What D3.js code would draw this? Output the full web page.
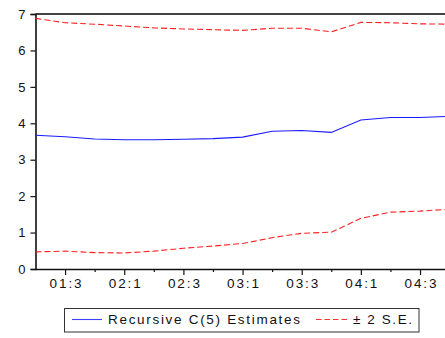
<!DOCTYPE html>
<html>
<head>
<meta charset="utf-8">
<script src="https://cdn.jsdelivr.net/npm/d3@7/dist/d3.min.js"></script>
<style>
  html, body { margin: 0; padding: 0; background: #fff; }
  svg { display: block; }
  text { font-family: Arial, "Liberation Sans", sans-serif; fill: #111; }
</style>
</head>
<body>
<svg id="chart" width="445" height="338"></svg>
<script>
// Quarterly observations, 2001Q2 – 2004Q4
const quarters = ["01:2","01:3","01:4","02:1","02:2","02:3","02:4","03:1",
                  "03:2","03:3","03:4","04:1","04:2","04:3","04:4"];
// Recursive estimate of coefficient C(5)
const estimate  = [3.67,3.63,3.57,3.55,3.55,3.56,3.58,3.62,3.78,3.80,3.75,4.09,4.16,4.16,4.19];
// Upper and lower ±2 standard-error bands
const upperBand = [6.88,6.76,6.72,6.67,6.62,6.59,6.57,6.55,6.61,6.61,6.51,6.77,6.76,6.73,6.72];
const lowerBand = [0.47,0.49,0.45,0.44,0.49,0.57,0.63,0.70,0.86,0.98,1.01,1.39,1.56,1.59,1.64];
const yTicks = [0,1,2,3,4,5,6,7];
const labelledQuarters = ["01:3","02:1","02:3","03:1","03:3","04:1","04:3"];

const svg = d3.select("#chart");
const plotLeft = 35.5, plotRight = 449.6, plotTop = 14, plotBottom = 269;

const x = d3.scaleLinear().domain([0, quarters.length - 1]).range([plotLeft, plotRight]);
const y = d3.scaleLinear().domain([0, 7]).range([plotBottom, plotTop]);

// frame top edge
svg.append("line")
  .attr("x1", plotLeft).attr("x2", plotRight)
  .attr("y1", plotTop).attr("y2", plotTop)
  .attr("stroke", "#444").attr("stroke-width", 1.8);

// y axis
const yAxis = svg.append("g")
  .attr("transform", `translate(${plotLeft},0)`)
  .call(d3.axisLeft(y).tickValues(yTicks).tickSize(5).tickPadding(5).tickFormat(d3.format("d")));
yAxis.select(".domain").attr("stroke", "#111").attr("stroke-width", 1.6);
yAxis.selectAll(".tick line").attr("stroke", "#111").attr("stroke-width", 1.2);
yAxis.selectAll("text").attr("font-size", 13).attr("fill", "#111")
  .attr("font-family", "Arial, 'Liberation Sans', sans-serif");

// x axis: every quarter gets a tick, odd-numbered ones are labelled
const idx = d3.range(quarters.length);
const xAxis = svg.append("g")
  .attr("transform", `translate(0,${plotBottom})`)
  .call(d3.axisBottom(x).tickValues(idx).tickSizeOuter(0)
    .tickFormat(i => labelledQuarters.includes(quarters[i]) ? quarters[i] : ""));
xAxis.select(".domain").attr("stroke", "#111").attr("stroke-width", 1.6);
xAxis.selectAll(".tick line")
  .attr("stroke", "#111").attr("stroke-width", 1.2)
  .attr("y2", i => labelledQuarters.includes(quarters[i]) ? 6 : 3);
xAxis.selectAll(".tick line").filter(i => i === 0).remove();
xAxis.selectAll("text")
  .attr("font-size", 13.5).attr("fill", "#111")
  .attr("font-family", "Arial, 'Liberation Sans', sans-serif")
  .attr("y", 9)
  .each(function () { if (this.textContent) d3.select(this).attr("textLength", 32).attr("lengthAdjust", "spacing"); });

// series
const line = arr => d3.line().x((d, i) => x(i)).y(d => y(d))(arr);

svg.append("path").attr("d", line(upperBand))
  .attr("fill", "none").attr("stroke", "#ff2020").attr("stroke-width", 1.1)
  .attr("stroke-dasharray", "6,3");
svg.append("path").attr("d", line(lowerBand))
  .attr("fill", "none").attr("stroke", "#ff2020").attr("stroke-width", 1.1)
  .attr("stroke-dasharray", "6,3");
svg.append("path").attr("d", line(estimate))
  .attr("fill", "none").attr("stroke", "#1a1aff").attr("stroke-width", 1.1);

// legend
const lg = svg.append("g");
lg.append("rect")
  .attr("x", 64.5).attr("y", 308.5).attr("width", 354.5).attr("height", 23.5)
  .attr("fill", "#fff").attr("stroke", "#333").attr("stroke-width", 1);
lg.append("line").attr("x1", 72).attr("x2", 102).attr("y1", 319.5).attr("y2", 319.5)
  .attr("stroke", "#4040ff").attr("stroke-width", 1.1);
lg.append("text").attr("x", 108).attr("y", 324)
  .attr("font-size", 13.5).attr("textLength", 192).attr("lengthAdjust", "spacing")
  .text("Recursive C(5) Estimates");
lg.append("line").attr("x1", 316).attr("x2", 348).attr("y1", 319.5).attr("y2", 319.5)
  .attr("stroke", "#ff3030").attr("stroke-width", 1.1).attr("stroke-dasharray", "5.5,3");
lg.append("text").attr("x", 353).attr("y", 324)
  .attr("font-size", 13.5).attr("textLength", 59).attr("lengthAdjust", "spacing")
  .text("± 2 S.E.");
</script>
</body>
</html>
